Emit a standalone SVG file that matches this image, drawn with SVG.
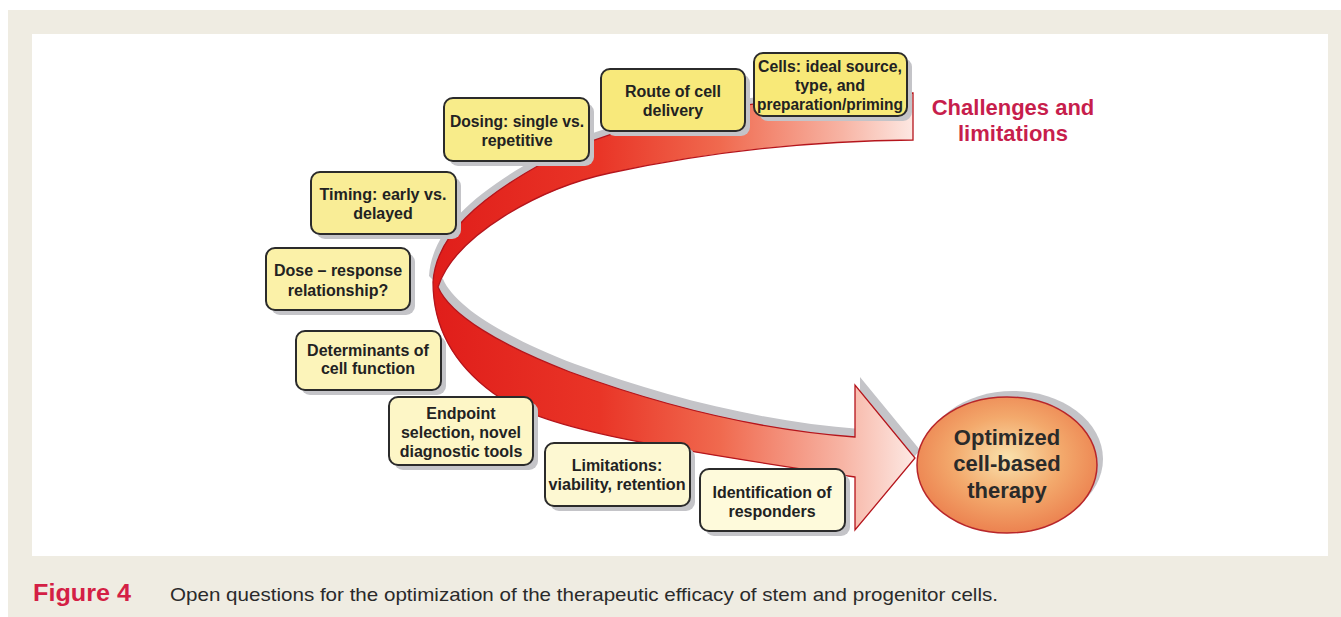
<svg xmlns="http://www.w3.org/2000/svg" width="1341" height="617" viewBox="0 0 1341 617">
<defs>
<linearGradient id="rib" gradientUnits="userSpaceOnUse" x1="430" y1="0" x2="915" y2="0">
<stop offset="0" stop-color="#e01d1a"/>
<stop offset="0.35" stop-color="#e93527"/>
<stop offset="0.6" stop-color="#f06a4f"/>
<stop offset="0.85" stop-color="#f7b4a4"/>
<stop offset="1" stop-color="#fde9e4"/>
</linearGradient>
<radialGradient id="oval" cx="0.5" cy="0.45" r="0.55">
<stop offset="0" stop-color="#f9e2ad"/>
<stop offset="0.55" stop-color="#f3a96c"/>
<stop offset="1" stop-color="#ec8250"/>
</radialGradient>
<style>
.box{stroke:#2b2b2b;stroke-width:2}
.shd{fill:#c4c4c8}
.bt{font-family:"Liberation Sans",Arial,sans-serif;font-weight:bold;font-size:16px;fill:#222;text-anchor:middle}
.ct{font-family:"Liberation Sans",Arial,sans-serif;font-weight:bold;font-size:22px;fill:#c71e4c;text-anchor:middle}
.ot{font-family:"Liberation Sans",Arial,sans-serif;font-weight:bold;font-size:22px;fill:#2a2a2a;text-anchor:middle}
</style>
</defs>
<rect x="0" y="0" width="1341" height="617" fill="#ffffff"/>
<rect x="8" y="10" width="1333" height="607" fill="#efece2"/>
<rect x="32" y="34" width="1296" height="522" fill="#ffffff"/>

<g id="connectors">
<path class="shd" transform="translate(-4,-6)" d="M913,93 C760,95 620,120 543,163 C480,198 436,235 433,282 L438,287 C455,235 540,188 610,173 C680,158 780,141 913,140 Z"/>
<path class="shd" transform="translate(5,-8)" d="M433,282 C433,330 455,365 493,393 C540,428 640,445 855,477 L855,530 L915,458 L855,385 L855,437 C760,430 660,405 570,372 C500,345 450,315 438,287 Z"/>
<path fill="url(#rib)" stroke="#b5151c" stroke-width="1.3" d="M913,93 C760,95 620,120 543,163 C480,198 436,235 433,282 C433,330 455,365 493,393 C540,428 640,445 855,477 L855,530 L915,458 L855,385 L855,437 C760,430 660,405 570,372 C500,345 450,315 438,287 C455,235 540,188 610,173 C680,158 780,141 913,140 Z"/>
</g>

<g id="challenges-label">
<text class="ct" x="1013" y="115">Challenges and</text>
<text class="ct" x="1013" y="141">limitations</text>
</g>

<g id="optimized-therapy">
<ellipse cx="1013" cy="459" rx="90" ry="68" fill="#c4c4c8"/>
<ellipse cx="1007" cy="465" rx="90" ry="68" fill="url(#oval)" stroke="#b8262a" stroke-width="1.5"/>
<text class="ot" x="1007" y="445">Optimized</text>
<text class="ot" x="1007" y="471">cell-based</text>
<text class="ot" x="1007" y="498">therapy</text>
</g>

<g id="cells">
<rect class="shd" x="759" y="58" width="153" height="63" rx="9"/>
<rect class="box" x="754" y="53" width="153" height="63" rx="9" fill="#f8e978"/>
<text class="bt" x="830" y="72" textLength="144" lengthAdjust="spacingAndGlyphs">Cells: ideal source,</text>
<text class="bt" x="830" y="91">type, and</text>
<text class="bt" x="830" y="110" textLength="146" lengthAdjust="spacingAndGlyphs">preparation/priming</text>
</g>

<g id="route">
<rect class="shd" x="606" y="74" width="144" height="62" rx="9"/>
<rect class="box" x="601" y="69" width="144" height="62" rx="9" fill="#f8e97b"/>
<text class="bt" x="673" y="97">Route of cell</text>
<text class="bt" x="673" y="116">delivery</text>
</g>

<g id="dosing">
<rect class="shd" x="449" y="103" width="145" height="63" rx="9"/>
<rect class="box" x="444" y="98" width="145" height="63" rx="9" fill="#f8ec8a"/>
<text class="bt" x="517" y="127" textLength="134" lengthAdjust="spacingAndGlyphs">Dosing: single vs.</text>
<text class="bt" x="517" y="146">repetitive</text>
</g>

<g id="timing">
<rect class="shd" x="316" y="177" width="145" height="62" rx="9"/>
<rect class="box" x="311" y="172" width="145" height="62" rx="9" fill="#f9ed96"/>
<text class="bt" x="383" y="200" textLength="127" lengthAdjust="spacingAndGlyphs">Timing: early vs.</text>
<text class="bt" x="383" y="219">delayed</text>
</g>

<g id="dose-response">
<rect class="shd" x="271" y="253" width="144" height="62" rx="9"/>
<rect class="box" x="266" y="248" width="144" height="62" rx="9" fill="#fbf1a8"/>
<text class="bt" x="338" y="276">Dose – response</text>
<text class="bt" x="338" y="296">relationship?</text>
</g>

<g id="determinants">
<rect class="shd" x="301" y="336" width="145" height="59" rx="9"/>
<rect class="box" x="296" y="331" width="145" height="59" rx="9" fill="#fcf4ba"/>
<text class="bt" x="368" y="356">Determinants of</text>
<text class="bt" x="368" y="374">cell function</text>
</g>

<g id="endpoint">
<rect class="shd" x="394" y="402" width="144" height="68" rx="9"/>
<rect class="box" x="389" y="397" width="144" height="68" rx="9" fill="#fdf6c6"/>
<text class="bt" x="461" y="419">Endpoint</text>
<text class="bt" x="461" y="438">selection, novel</text>
<text class="bt" x="461" y="457">diagnostic tools</text>
</g>

<g id="limitations">
<rect class="shd" x="550" y="448" width="145" height="63" rx="9"/>
<rect class="box" x="545" y="443" width="145" height="63" rx="9" fill="#fdf8d2"/>
<text class="bt" x="617" y="471">Limitations:</text>
<text class="bt" x="617" y="490" textLength="137" lengthAdjust="spacingAndGlyphs">viability, retention</text>
</g>

<g id="identification">
<rect class="shd" x="705" y="474" width="145" height="62" rx="9"/>
<rect class="box" x="700" y="469" width="145" height="62" rx="9" fill="#fefadb"/>
<text class="bt" x="772" y="498">Identification of</text>
<text class="bt" x="772" y="517">responders</text>
</g>

<g id="caption">
<text x="33" y="601" font-family="'Liberation Sans',Arial,sans-serif" font-weight="bold" font-size="24" fill="#d41f45" textLength="98" lengthAdjust="spacingAndGlyphs">Figure 4</text>
<text x="170" y="601" font-family="'Liberation Sans',Arial,sans-serif" font-size="19" fill="#2a2a2a" textLength="828" lengthAdjust="spacingAndGlyphs">Open questions for the optimization of the therapeutic efficacy of stem and progenitor cells.</text>
</g>
</svg>
